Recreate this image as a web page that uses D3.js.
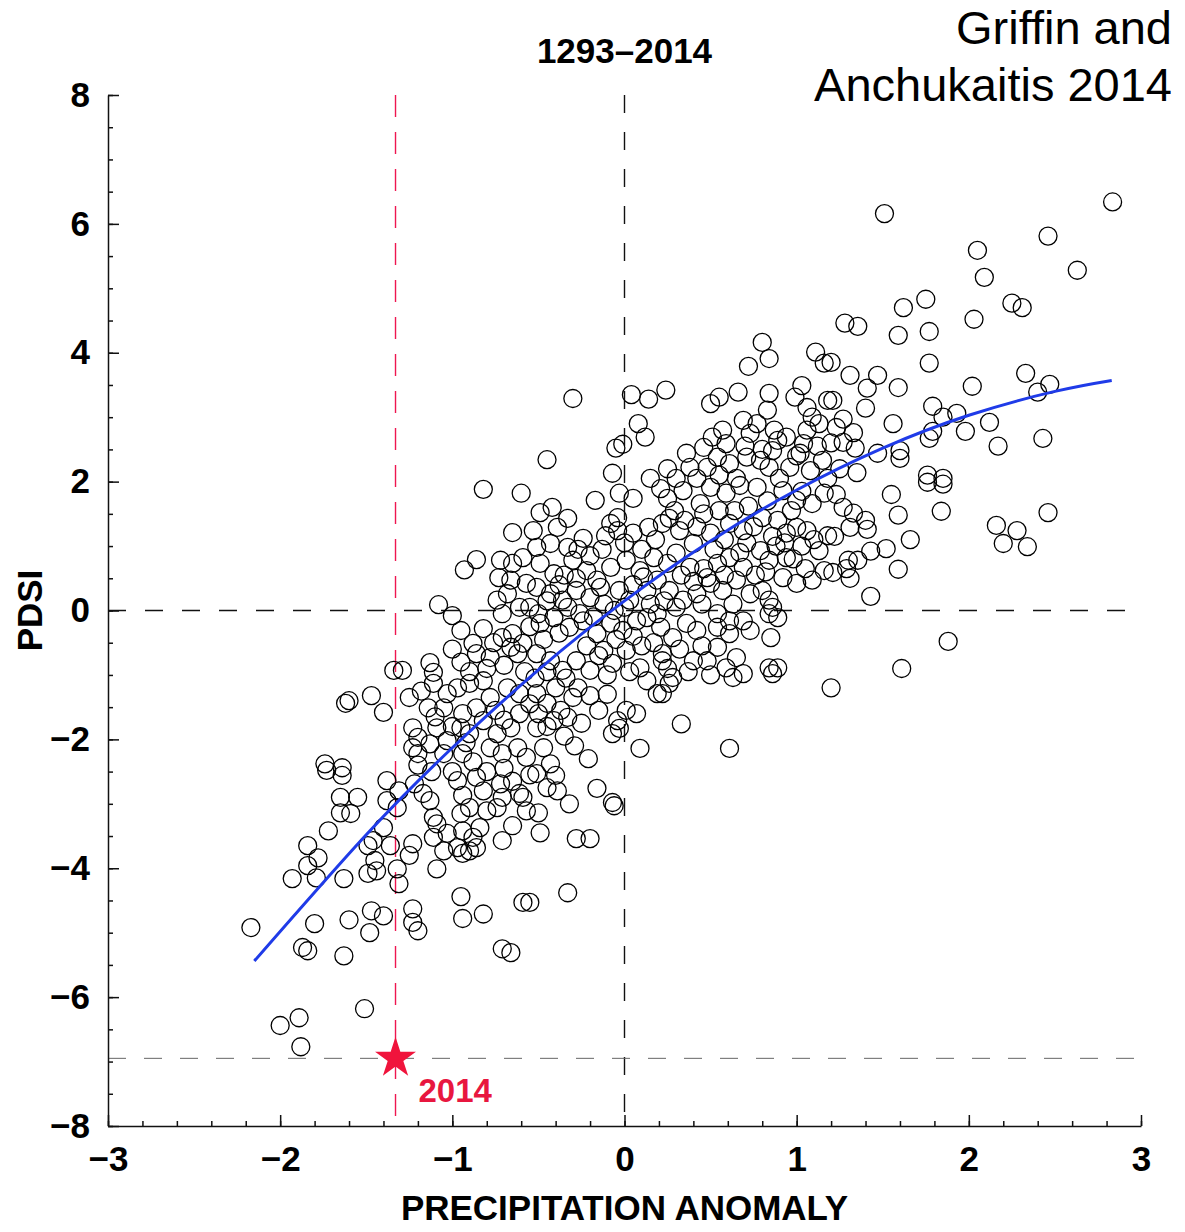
<!DOCTYPE html>
<html>
<head>
<meta charset="utf-8">
<script src="https://cdn.jsdelivr.net/npm/d3@7"></script>
<style>
  body { margin: 0; background: #fff; }
  svg text { font-family: "Liberation Sans", Arial, Helvetica, sans-serif; }
</style>
</head>
<body>
<svg id="chart"></svg>
<script>
// years 1293-2014: [precipitation anomaly, PDSI]
const pairs = [
  [1.51,6.16],[2.835,6.34],[2.46,5.81],[2.05,5.59],[2.63,5.28],[2.09,5.17],[1.75,4.83],[1.62,4.70],[2.25,4.77],[2.31,4.70],
  [2.03,4.52],[1.28,4.46],[1.355,4.41],[1.59,4.27],[1.77,4.33],[1.77,3.84],[1.20,3.85],[1.31,3.65],[1.47,3.65],[1.41,3.45],
  [1.59,3.46],[2.02,3.48],[2.33,3.68],[2.40,3.39],[2.47,3.51],[1.21,3.26],[1.40,3.14],[1.79,3.17],[1.85,3.00],[1.93,3.06],
  [1.56,2.90],[2.12,2.92],[1.98,2.78],[1.79,2.78],[1.77,2.67],[1.27,2.97],[1.33,2.76],[1.23,2.84],[1.27,2.61],[1.34,2.52],
  [1.47,2.44],[1.60,2.48],[1.60,2.36],[2.17,2.55],[2.43,2.67],[1.25,2.20],[1.35,2.14],[1.76,2.10],[1.85,2.05],
  [1.55,1.80],[1.85,1.96],[1.76,1.99],[1.59,1.48],[1.84,1.54],[2.46,1.52],[2.16,1.32],[2.28,1.24],[2.20,1.04],[2.34,0.99],
  [1.66,1.10],[1.52,0.96],[1.43,0.92],[1.22,1.15],[1.31,1.29],[1.40,1.40],[1.41,1.26],[1.33,1.51],[1.27,1.60],[1.23,1.80],
  [1.355,0.78],[1.30,0.78],[1.29,0.65],[1.31,0.50],[1.21,0.59],[1.59,0.64],[1.43,0.22],[1.88,-0.48],[1.61,-0.90],[1.20,-1.20],
  [-0.30,3.29],[-0.45,2.34],[-0.07,2.13],[-0.05,2.52],[-0.01,2.58],[0.04,3.35],[0.14,3.28],[0.24,3.42],[0.08,2.90],[0.12,2.69],
  [0.72,3.79],[0.80,4.16],[0.84,3.91],[1.11,4.01],[1.16,3.84],[0.50,3.21],[0.55,3.31],[0.66,3.39],[0.84,3.37],[1.03,3.49],
  [0.99,3.31],[1.06,3.15],[1.18,3.26],[0.83,3.11],[0.69,2.95],[0.77,2.90],[0.73,2.75],[0.87,2.80],[0.89,2.64],[0.94,2.69],
  [0.86,2.48],[1.09,3.00],[1.13,2.90],[1.06,2.80],[1.04,2.59],[1.02,2.44],[1.08,2.17],[1.15,2.33],[0.36,2.44],[0.46,2.53],
  [0.51,2.69],[0.57,2.80],[0.59,2.59],[0.54,2.38],[0.38,2.22],[0.48,2.22],[0.61,2.28],[0.71,2.38],[0.79,2.33],[0.84,2.22],[0.96,2.22],
  [-0.17,1.71],[-0.03,1.82],[0.05,1.74],[0.21,1.89],[0.25,1.74],[0.34,1.86],[0.44,1.66],[0.50,1.91],[0.59,1.82],[0.67,1.94],
  [0.77,1.91],[0.92,1.86],[1.00,1.71],[1.09,1.66],[1.16,1.82],[-0.49,1.52],[-0.42,1.60],[-0.33,1.43],[-0.39,1.29],
  [-0.24,1.12],[-0.11,1.16],[-0.04,1.44],[-0.04,1.24],[0.14,1.29],[0.26,1.43],[0.32,1.24],[0.40,1.04],[0.50,1.20],[0.61,1.35],
  [0.69,1.24],[0.80,1.44],[0.89,1.40],[0.94,1.20],[1.00,1.29],[1.06,1.24],[1.18,1.16],[1.13,0.93],[-0.53,1.24],[-0.51,0.98],
  [-0.43,1.04],[-0.33,0.98],[-0.49,0.73],[-0.41,0.57],[-0.30,0.78],[-0.22,0.62],[-0.16,0.47],[-0.08,0.67],[0.01,0.78],[0.09,0.62],
  [0.17,0.82],[0.25,0.73],[0.30,0.89],[0.38,0.67],[0.48,0.51],[0.54,0.73],[0.61,0.82],[0.69,0.67],[0.79,0.93],[0.84,0.78],
  [0.92,0.51],[1.00,0.42],[1.09,0.47],[1.16,0.62],[0.94,0.82],[-0.51,0.36],[-0.43,0.26],[-0.36,0.16],[-0.28,0.31],[-0.20,0.20],
  [-0.14,0.36],[-0.03,0.31],[0.03,0.16],[0.13,0.31],[0.19,0.47],[0.26,0.31],[0.34,0.16],[0.42,0.26],[0.50,0.42],[0.57,0.31],
  [0.65,0.47],[0.73,0.26],[0.84,0.16],[0.86,0.05],[0.80,0.31],[0.54,-0.05],[-0.49,-0.20],[-0.41,-0.11],[-0.32,-0.26],[-0.24,-0.16],
  [-0.16,-0.36],[-0.08,-0.20],[-0.01,-0.31],[0.07,-0.16],[0.13,-0.11],[0.21,-0.26],[0.28,-0.42],[0.36,-0.20],[0.42,-0.31],[0.54,-0.26],
  [0.61,-0.16],[0.69,-0.16],[0.73,-0.31],[0.84,-0.05],[0.89,-0.11],[0.85,-0.42],[0.61,-0.36],[-0.51,-0.67],[-0.43,-0.78],[-0.36,-0.93],
  [-0.28,-0.78],[-0.20,-0.93],[-0.12,-0.62],[-0.07,-0.82],[0.01,-0.62],[0.09,-0.89],[0.13,-1.09],[0.22,-0.67],[0.28,-1.04],[0.22,-0.78],
  [0.40,-0.78],[0.48,-0.78],[0.54,-0.57],[0.59,-0.89],[0.63,-1.04],[0.69,-0.98],[0.65,-0.73],[0.84,-0.89],[0.86,-0.98],[0.89,-0.89],
  [-0.51,-1.29],[-0.45,-1.44],[-0.37,-1.55],[-0.20,-1.32],[0.01,-1.55],[0.07,-1.60],[-0.04,-1.71],[0.19,-1.29],[0.26,-1.13],[0.22,-1.29],
  [-0.51,-1.82],[-0.41,-1.71],[-0.33,-1.66],[-0.47,-2.13],[-0.29,-2.10],[-0.21,-2.30],[-0.43,-2.38],[-0.03,-1.83],[-0.07,-1.91],[0.09,-2.14],
  [0.33,-1.76],[0.61,-2.14],
  [-0.51,-2.53],[-0.40,-2.56],[-0.39,-2.80],[-0.32,-3.00],[-0.50,-3.14],[-0.49,-3.45],[-0.16,-2.76],[-0.07,-2.98],[-0.06,-3.03],[-0.28,-3.54],
  [-0.20,-3.54],[-0.33,-4.38],[-0.55,-4.53],
  [-1.64,-2.56],[-1.73,-2.48],[-1.38,-2.64],[-1.38,-2.95],[-1.65,-2.90],[-1.55,-2.90],[-1.65,-3.14],[-1.59,-3.15],[-1.32,-3.06],[-1.31,-2.80],
  [-1.22,-2.69],[-1.17,-2.84],[-1.13,-2.95],[-1.11,-3.21],[-1.72,-3.42],[-1.40,-3.37],[-1.84,-3.65],[-1.78,-3.84],[-1.84,-3.96],[-1.93,-4.16],
  [-1.79,-4.15],[-1.63,-4.16],[-1.49,-3.65],[-1.46,-3.57],[-1.36,-3.65],[-1.23,-3.62],[-1.25,-3.80],[-1.49,-4.08],[-1.44,-4.04],[-1.45,-3.88],
  [-1.32,-4.01],[-1.31,-4.24],[-1.09,-3.31],[-1.11,-3.52],[-1.03,-3.46],[-1.05,-3.73],[-1.09,-4.01],[-0.97,-2.64],[-0.94,-2.87],[-0.86,-2.59],
  [-0.82,-2.80],[-0.72,-2.69],[-0.71,-2.90],[-0.61,-2.84],[-0.95,-3.15],[-0.90,-3.06],[-0.80,-3.11],[-0.74,-3.06],[-0.94,-3.42],[-0.88,-3.52],
  [-0.84,-3.37],[-0.97,-3.68],[-0.94,-3.77],[-0.90,-3.73],[-0.86,-3.68],[-0.71,-3.57],[-0.65,-3.34],[-0.57,-3.11],[-0.59,-2.90],
  [-2.17,-4.92],[-1.80,-4.86],[-1.87,-5.23],[-1.84,-5.28],[-1.60,-4.80],[-1.47,-4.66],[-1.40,-4.74],[-1.48,-5.00],[-1.23,-4.63],[-1.23,-4.84],
  [-1.20,-4.97],[-1.63,-5.36],[-0.95,-4.44],[-0.94,-4.78],[-0.82,-4.71],[-0.59,-4.53],[-0.71,-5.25],[-0.66,-5.31],
  [-1.51,-6.18],[-1.89,-6.32],[-2.00,-6.44],[-1.88,-6.77],
  [-0.82,1.88],[-0.60,1.82],[-0.65,1.21],[-0.93,0.63],[-0.86,0.79],[-0.72,0.78],[-0.65,0.73],[-0.59,0.82],[-0.73,0.51],[-0.66,0.47],
  [-0.57,0.42],[-1.08,0.09],[-1.00,-0.08],[-0.95,-0.31],[-0.82,-0.28],[-0.74,0.16],[-0.68,0.26],[-0.71,-0.05],[-0.61,0.05],[-0.88,-0.51],
  [-0.86,-0.67],[-0.78,-0.73],[-0.71,-0.42],[-0.65,-0.36],[-0.59,-0.51],[-0.66,-0.57],[-0.62,-0.67],[-1.13,-0.81],[-1.11,-0.96],[-1.11,-1.13],
  [-1.34,-0.93],[-1.29,-0.93],[-1.47,-1.32],[-1.40,-1.58],[-1.62,-1.44],[-1.60,-1.40],[-1.14,-1.51],[-1.03,-1.29],[-0.97,-1.20],[-0.90,-1.13],
  [-0.82,-1.09],[-0.78,-1.35],[-0.68,-1.20],[-0.61,-1.29],[-1.05,-1.51],[-0.94,-1.60],[-0.86,-1.51],[-1.23,-1.82],[-1.20,-1.97],[-1.23,-2.13],
  [-1.20,-2.22],[-1.09,-1.82],[-1.13,-2.07],[-1.03,-2.02],[-0.95,-1.82],[-0.90,-1.91],[-0.82,-1.71],[-0.74,-1.91],[-0.66,-1.82],[-0.61,-1.60],
  [-0.78,-2.13],[-0.71,-2.22],[-0.62,-2.13],[-0.57,-2.28],[-0.94,-2.22],[-1.05,-2.22],[-1.74,-2.38],[-1.64,-2.44],
  // dense core, overlapping circles
  [-0.55,0.05],[-0.47,-0.45],[-0.38,-0.35],[-0.33,0.05],[-0.26,-0.05],[-0.18,-0.10],[-0.12,0.10],[-0.06,0.00],[0.00,0.05],[0.05,0.40],
  [0.11,0.52],[0.15,0.10],[0.19,-0.05],[0.23,0.15],[0.30,0.05],[0.33,0.55],[0.40,0.45],[0.45,0.10],[0.46,0.65],[0.52,0.95],
  [0.58,0.55],[0.63,0.10],[0.67,0.90],[0.71,1.05],[0.76,0.55],[0.82,0.60],[0.88,1.00],[0.93,1.05],[0.98,0.80],[1.03,1.00],
  [1.05,0.65],[1.10,1.10],[-0.58,-0.95],[-0.52,-1.05],[-0.45,-0.95],[-0.40,-1.20],[-0.34,-1.05],[-0.27,-1.20],[-0.22,-0.55],[-0.15,-0.70],
  [-0.10,-1.00],[-0.05,-0.45],[0.03,-0.95],[0.05,-0.40],[0.10,-0.55],[0.17,-0.50],[0.25,-0.90],[0.32,-0.60],[0.37,-0.95],[0.45,-0.55],
  [0.50,-1.00],[-0.35,0.55],[-0.27,0.95],[-0.20,0.85],[-0.13,0.95],[-0.08,1.35],[0.00,1.05],[0.05,1.20],[0.10,0.95],[0.18,1.10],
  [0.22,1.35],[0.29,1.55],[0.35,1.40],[0.42,1.30],[0.46,1.50],[0.55,1.55],[0.58,1.10],[0.64,1.55],[0.72,1.62],[0.75,1.30],
  [0.83,1.70],[0.86,1.15],[0.97,1.55],[1.03,1.85],[0.15,2.05],[0.25,2.20],[0.30,2.05],[0.42,2.05],[0.55,2.10],[0.65,2.05],
  [0.70,2.55],[0.90,2.05],[1.00,2.40],[1.12,2.55],[1.20,2.60],[1.18,2.05],[0.80,2.50],[-1.00,-2.50],[-0.88,-2.35],[-0.80,-2.50],
  [-0.70,-2.45],[-0.65,-2.65],[-0.55,-2.55],[-0.45,-2.75],[-0.75,-1.55],[-0.70,-1.70],[-0.55,-1.45],[-0.50,-1.60],[-0.45,-1.80],[-0.35,-1.95],
  [-0.25,-1.75],[-0.15,-1.55],[-0.10,-1.30],[-0.30,-1.35],[-1.00,-0.60],[-0.95,-0.80],[-0.90,-0.95],[-0.80,-0.90],[-0.76,-0.50],[-0.70,-0.85],
  [-0.55,-0.25],[-0.50,-0.05],[-0.45,0.15],[-0.38,0.40],[-0.28,0.50],[-1.25,-1.35],[-1.18,-1.25],[-1.10,-1.65],[-1.00,-1.80],[-1.20,-2.40],
  [-1.12,-2.50],[-0.92,-2.05]
]

const fitPrecip = [-2.15, -1.5, -1, -0.5, 0, 0.5, 1, 1.5, 2, 2.5, 2.83]
const fitPdsi = [-5.44, -3.48, -2.13, -0.92, 0.15, 1.08, 1.87, 2.52, 3.03, 3.40, 3.57]

// year 2014
const year2014 = {precip: -1.33, pdsi: -6.95, label: '2014'}

const xTicks = [-3, -2, -1, 0, 1, 2, 3]
const yTicks = [-8, -6, -4, -2, 0, 2, 4, 6, 8]

const width = 1185, height = 1232
const margin = {top: 95, right: 44, bottom: 106, left: 108}

const svg = d3.select('#chart').attr('width', width).attr('height', height)

const x = d3.scaleLinear().domain([-3, 3]).range([margin.left, width - margin.right])
const y = d3.scaleLinear().domain([-8, 8]).range([height - margin.bottom, margin.top])

const fontTick = 35
const fmt = d3.format('d')

// reference dashed lines
const refs = svg.append('g')
refs.append('line')
  .attr('x1', x(0)).attr('x2', x(0)).attr('y1', y(8)).attr('y2', y(-8))
  .attr('stroke', '#111').attr('stroke-width', 1.4).attr('stroke-dasharray', '18 19')
refs.append('line')
  .attr('x1', x(-3)).attr('x2', x(3)).attr('y1', y(0)).attr('y2', y(0))
  .attr('stroke', '#111').attr('stroke-width', 1.4).attr('stroke-dasharray', '18 19')
refs.append('line')
  .attr('x1', x(-3)).attr('x2', x(3)).attr('y1', y(year2014.pdsi)).attr('y2', y(year2014.pdsi))
  .attr('stroke', '#666').attr('stroke-width', 1).attr('stroke-dasharray', '18 18')
refs.append('line')
  .attr('x1', x(year2014.precip)).attr('x2', x(year2014.precip)).attr('y1', y(8)).attr('y2', y(-8))
  .attr('stroke', '#ee1650').attr('stroke-width', 1.4).attr('stroke-dasharray', '22 15')

// scatter
svg.append('g').selectAll('circle').data(pairs).join('circle')
  .attr('cx', d => x(d[0]))
  .attr('cy', d => y(d[1]))
  .attr('r', 9)
  .attr('fill', 'none')
  .attr('stroke', '#000')
  .attr('stroke-width', 1.3)

// fit curve
const line = d3.line().x(d => x(d[0])).y(d => y(d[1])).curve(d3.curveNatural)
svg.append('path')
  .datum(fitPrecip.map((p, i) => [p, fitPdsi[i]]))
  .attr('d', line)
  .attr('fill', 'none')
  .attr('stroke', '#1f3be8')
  .attr('stroke-width', 3)

// 2014 star
svg.append('path')
  .attr('d', d3.symbol(d3.symbolStar).size(520)())
  .attr('transform', `translate(${x(year2014.precip)},${y(year2014.pdsi)})`)
  .attr('fill', '#f0143c')
svg.append('text')
  .attr('x', x(year2014.precip) + 23).attr('y', y(year2014.pdsi) + 44)
  .attr('fill', '#e8173f').attr('font-size', 33).attr('font-weight', 'bold')
  .text(year2014.label)

// axes
const xAxis = svg.append('g').attr('transform', `translate(0,${y(-8)})`)
xAxis.call(d3.axisBottom(x).tickValues(xTicks).tickFormat(fmt).tickSize(-11).tickSizeOuter(0).tickPadding(20))
xAxis.append('g').call(d3.axisBottom(x).ticks(30).tickSize(-5).tickSizeOuter(0).tickFormat(''))
  .select('.domain').remove()

const yAxis = svg.append('g').attr('transform', `translate(${x(-3)},0)`)
yAxis.call(d3.axisLeft(y).tickValues(yTicks).tickFormat(fmt).tickSize(-11).tickSizeOuter(0).tickPadding(18))
yAxis.append('g').call(d3.axisLeft(y).ticks(32).tickSize(-5).tickSizeOuter(0).tickFormat(''))
  .select('.domain').remove()

svg.selectAll('.domain, .tick line').attr('stroke', '#111').attr('stroke-width', 1.5)
svg.selectAll('.tick text')
  .attr('font-size', fontTick).attr('font-weight', 'bold').attr('fill', '#000')
  .attr('font-family', '"Liberation Sans", Arial, sans-serif')

// titles
svg.append('text')
  .attr('x', x(0)).attr('y', 63).attr('text-anchor', 'middle')
  .attr('font-size', 35).attr('font-weight', 'bold')
  .text('1293–2014')

svg.append('text')
  .attr('x', x(0)).attr('y', 1220).attr('text-anchor', 'middle')
  .attr('font-size', 35).attr('font-weight', 'bold')
  .text('PRECIPITATION ANOMALY')

svg.append('text')
  .attr('transform', `translate(42,${y(0)}) rotate(-90)`)
  .attr('text-anchor', 'middle')
  .attr('font-size', 35).attr('font-weight', 'bold')
  .text('PDSI')

const credit = svg.append('text').attr('text-anchor', 'end').attr('font-size', 47)
credit.append('tspan').attr('x', 1172).attr('y', 44).text('Griffin and')
credit.append('tspan').attr('x', 1172).attr('y', 101).text('Anchukaitis 2014')
</script>
</body>
</html>
